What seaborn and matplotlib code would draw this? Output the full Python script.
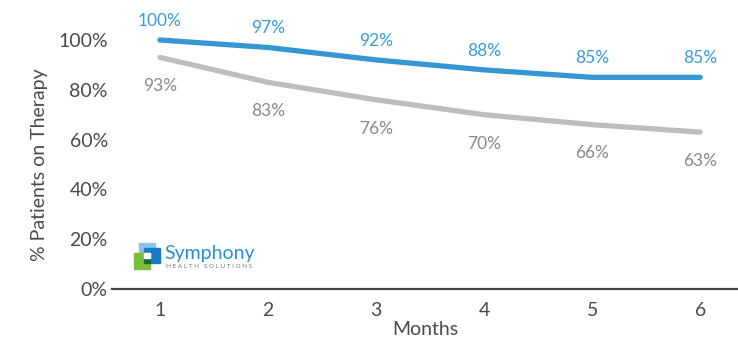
import matplotlib
matplotlib.use("Agg")
import matplotlib.pyplot as plt
import seaborn as sns
import pandas as pd
from matplotlib.patches import Rectangle

# Data
months = [1, 2, 3, 4, 5, 6]
top_series = [100, 97, 92, 88, 85, 85]
bottom_series = [93, 83, 76, 70, 66, 63]

blue = "#3596d4"
blue_txt = "#3a9bdc"
gray = "#bdbdbd"
gray_txt = "#8a8a8a"

df = pd.DataFrame({"Months": months * 2,
                   "Pct": top_series + bottom_series,
                   "Series": ["top"] * 6 + ["bottom"] * 6})

sns.set_style("white")
plt.rcParams["font.family"] = ["Lato", "DejaVu Sans"]

fig = plt.figure(figsize=(7.38, 3.42), dpi=100)
ax = fig.add_axes([112 / 738, 1 - 289 / 342, 1 - 112 / 738, (289 - 40) / 342])

sns.lineplot(data=df, x="Months", y="Pct", hue="Series",
             palette={"top": blue, "bottom": gray},
             linewidth=3.8, legend=False, ax=ax,
             solid_capstyle="round")
for l in ax.lines:
    l.set_clip_on(False)

for m, v in zip(months, top_series):
    ax.annotate(f"{v}%", (m, v), xytext=(0, 8), textcoords="offset points",
                ha="center", va="bottom", color=blue_txt, fontsize=12.5)
for m, v in zip(months, bottom_series):
    ax.annotate(f"{v}%", (m, v), xytext=(0, -15), textcoords="offset points",
                ha="center", va="top", color=gray_txt, fontsize=12.5)

ax.set_xlim(0.556, 6.35)
ax.set_ylim(0, 100)
ax.set_xticks(months)
ax.set_yticks([0, 20, 40, 60, 80, 100])
ax.set_yticklabels([f"{t}%" for t in [0, 20, 40, 60, 80, 100]])
ax.tick_params(axis="both", length=0, labelsize=14, colors="#4a4a4a")
ax.tick_params(axis="x", pad=9)
ax.tick_params(axis="y", pad=3)
ax.set_xlabel("Months", fontsize=14, color="#4a4a4a", labelpad=2)
ax.set_ylabel("% Patients on Therapy", fontsize=14, color="#4a4a4a", labelpad=7)

for s in ["top", "right", "left"]:
    ax.spines[s].set_visible(False)
ax.spines["bottom"].set_color("#444444")
ax.spines["bottom"].set_linewidth(1.6)

# logo watermark
W, H = 738, 342
def rect(x, y, w, h, c):
    fig.patches.append(Rectangle((x / W, 1 - (y + h) / H), w / W, h / H,
                                 transform=fig.transFigure, color=c, zorder=5))
rect(139, 243, 16, 15, "#8ec3ea")
rect(144, 248, 16, 15, "#1a7cc9")
rect(134, 253, 16, 16, "#78be3e")
rect(144, 258, 6, 5, "#1d6a3a")
rect(144, 253, 6, 5, "white")
fig.text(164 / W, 1 - 253 / H, "Symphony", color="#2a8fd0", fontsize=14,
         va="center", ha="left")
fig.text(166 / W, 1 - 267 / H, "H E A L T H   S O L U T I O N S", color="#777777",
         fontsize=4.6, va="center", ha="left")

fig.savefig("out.png", dpi=100)
